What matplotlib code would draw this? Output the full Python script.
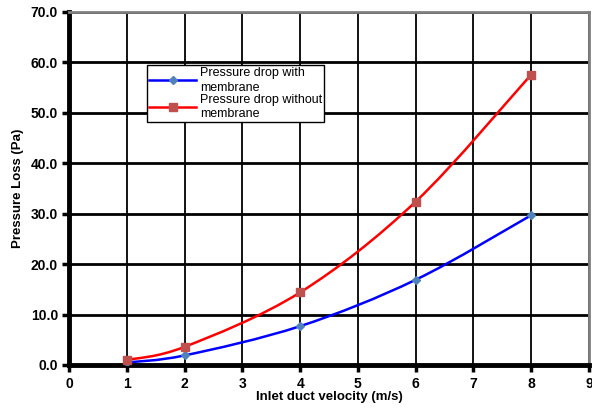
import matplotlib
matplotlib.use("Agg")
import matplotlib.pyplot as plt
import numpy as np
from matplotlib.path import Path
from matplotlib.patches import PathPatch
from matplotlib.lines import Line2D
from matplotlib.ticker import FormatStrFormatter

plt.rcParams['font.family'] = ['Liberation Sans', 'DejaVu Sans']

# data
velocity = [1, 2, 4, 6, 8]
with_membrane = [0.5, 1.9, 7.7, 16.9, 29.7]
without_membrane = [1.0, 3.6, 14.4, 32.4, 57.6]
x_ticks = list(range(0, 10))
y_ticks = [0, 10, 20, 30, 40, 50, 60, 70]


def smooth_path(x, y):
    """Excel-style smoothed line as cubic bezier segments."""
    x = np.asarray(x, float)
    y = np.asarray(y, float)
    n = len(x)
    verts = [(x[0], y[0])]
    codes = [Path.MOVETO]
    for i in range(n - 1):
        x0, y0 = (x[i - 1], y[i - 1]) if i > 0 else (x[i], y[i])
        x3, y3 = (x[i + 2], y[i + 2]) if i + 2 < n else (x[i + 1], y[i + 1])
        c1 = (x[i] + (x[i + 1] - x0) / 6, y[i] + (y[i + 1] - y0) / 6)
        c2 = (x[i + 1] - (x3 - x[i]) / 6, y[i + 1] - (y3 - y[i]) / 6)
        verts += [c1, c2, (x[i + 1], y[i + 1])]
        codes += [Path.CURVE4] * 3
    return Path(verts, codes)


fig = plt.figure(figsize=(5.92, 4.09), dpi=100)
ax = fig.add_axes([0.1166, 0.1076, 0.8784, 0.8631])

ax.add_patch(PathPatch(smooth_path(velocity, with_membrane), fill=False,
                       edgecolor='#0000ff', lw=1.8, zorder=3))
ax.add_patch(PathPatch(smooth_path(velocity, without_membrane), fill=False,
                       edgecolor='#ff0000', lw=1.8, zorder=3))
ax.plot(velocity, with_membrane, ls='none', marker='D', ms=4.5,
        color='#4f81bd', zorder=4)
ax.plot(velocity, without_membrane, ls='none', marker='s', ms=6,
        color='#c0504d', zorder=4)

ax.set_xlim(0, 9)
ax.set_ylim(0, 70)
ax.set_xticks(x_ticks)
ax.set_yticks(y_ticks)
ax.yaxis.set_major_formatter(FormatStrFormatter('%.1f'))

ax.grid(axis='y', color='black', lw=2.0)
ax.grid(axis='x', color='black', lw=1.3)
ax.set_axisbelow(True)

for side in ['left', 'bottom']:
    ax.spines[side].set_linewidth(3.5)
    ax.spines[side].set_color('black')
for side in ['top', 'right']:
    ax.spines[side].set_linewidth(2)
    ax.spines[side].set_color('#808080')

ax.tick_params(axis='both', direction='out', length=5, width=2.5,
               labelsize=10)
ax.tick_params(axis='x', pad=4)
ax.tick_params(axis='y', pad=3)
for lbl in ax.get_xticklabels() + ax.get_yticklabels():
    lbl.set_fontweight('bold')

ax.set_xlabel('Inlet duct velocity (m/s)', fontsize=9.5, fontweight='bold',
              labelpad=0)
ax.set_ylabel('Pressure Loss (Pa)', fontsize=9.5, fontweight='bold',
              labelpad=5)

handles = [
    Line2D([], [], color='#0000ff', lw=1.8, marker='D', ms=4,
           mfc='#4f81bd', mec='#4f81bd'),
    Line2D([], [], color='#ff0000', lw=1.8, marker='s', ms=5.5,
           mfc='#c0504d', mec='#c0504d'),
]
leg = ax.legend(handles, ['Pressure drop with\nmembrane',
                          'Pressure drop without\nmembrane'],
                loc='upper left', bbox_to_anchor=(0.15, 0.85),
                fontsize=9, frameon=True, fancybox=False, framealpha=1,
                edgecolor='black', borderpad=0.15, labelspacing=0.0,
                handlelength=3.8, handletextpad=0.3, borderaxespad=0)
leg.get_frame().set_linewidth(1)
for t in leg.get_texts():
    t.set_linespacing(1.3)

fig.savefig('out.png', dpi=100)
